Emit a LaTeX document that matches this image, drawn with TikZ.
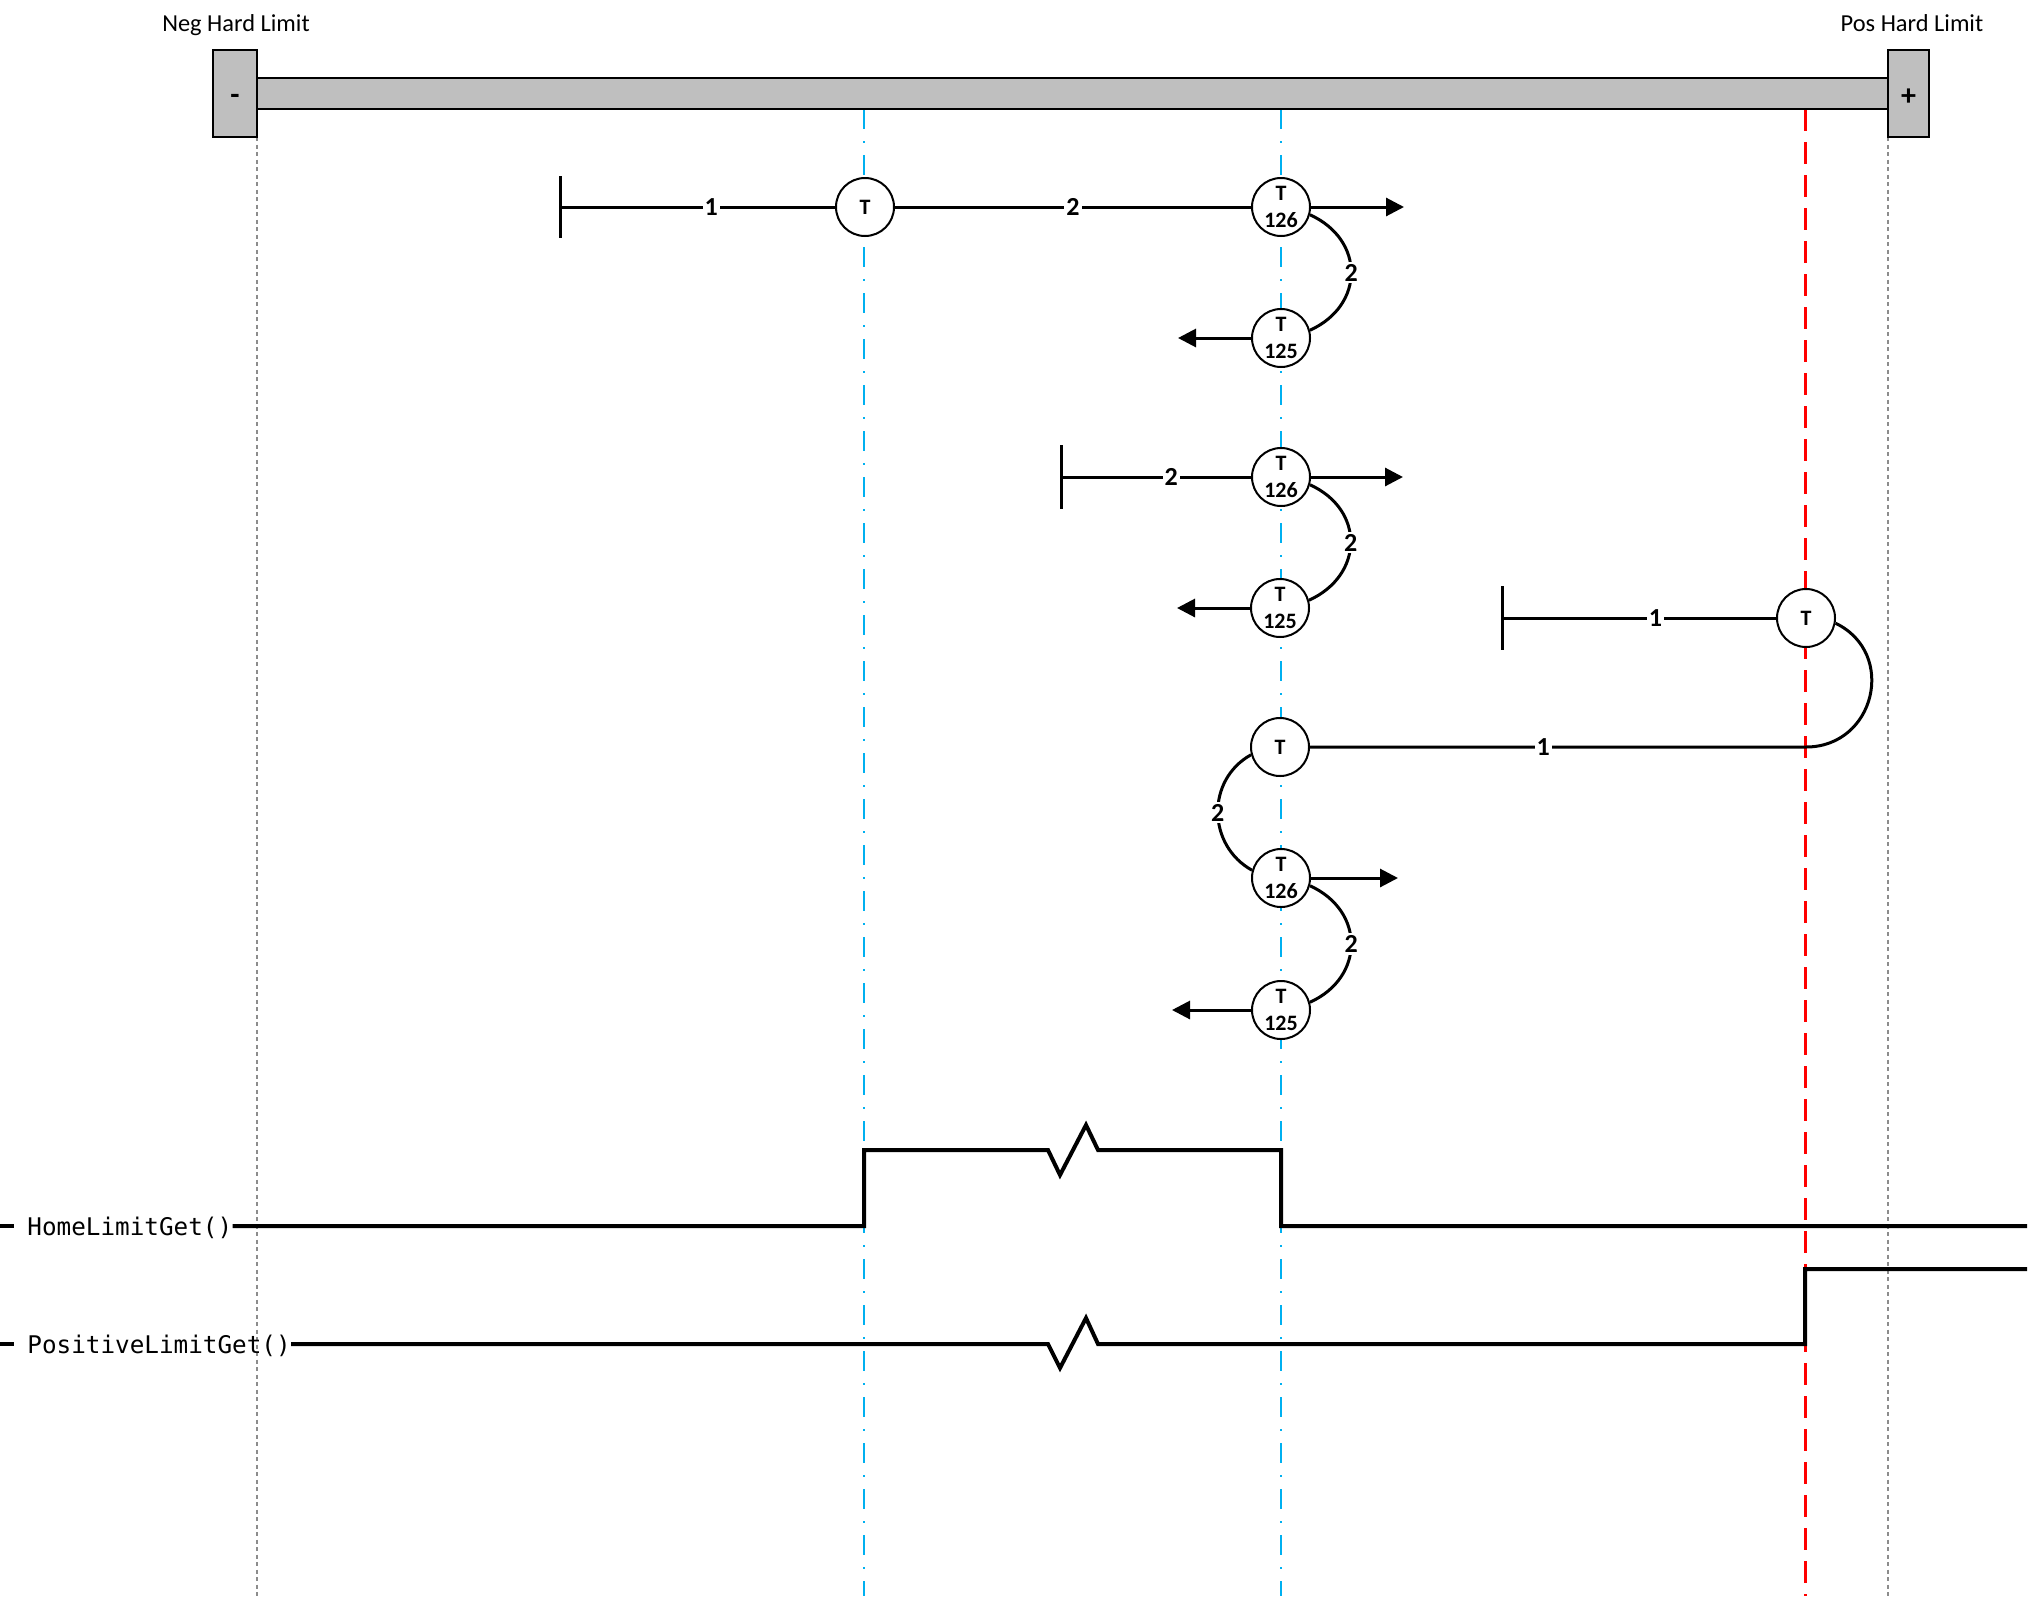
\documentclass[tikz,border=0pt]{standalone}
\usepackage{fontspec}
\setmainfont{Carlito}
\setmonofont{DejaVu Sans Mono}
\usetikzlibrary{arrows.meta}
\definecolor{guideblue}{RGB}{0,176,240}
\definecolor{barfill}{RGB}{191,191,191}
\definecolor{dotgrey}{RGB}{140,140,140}
\begin{document}
\begin{tikzpicture}[x=0.5pt,y=-0.5pt,
  blueguide/.style={guideblue,line width=1.25pt,dash pattern=on 10pt off 6pt on 1pt off 6pt},
  redguide/.style={red,line width=1.5pt,dash pattern=on 11pt off 5.5pt},
  greyguide/.style={dotgrey,line width=1.3pt,dash pattern=on 2pt off 1.75pt},
  limbox/.style={draw,line width=1pt,fill=barfill},
  conn/.style={line width=1.5pt},
  tnode/.style={circle,draw,line width=1pt,fill=white,minimum size=29pt,inner sep=0pt,align=center,font=\bfseries\fontsize{11}{13.5}\selectfont},
  lbl/.style={fill=white,inner sep=1pt,font=\bfseries\fontsize{13}{13}\selectfont},
  arr/.style={conn,-{Triangle[length=9pt,width=9pt]}},
  stopbar/.style={line width=1.5pt},
  sig/.style={line width=2pt,line join=miter},
  siglbl/.style={inner sep=0pt,font=\ttfamily\fontsize{12.15}{14}\selectfont,anchor=base west},
  hdr/.style={font=\fontsize{12.2}{14}\selectfont,anchor=base},
  sign/.style={font=\bfseries\fontsize{15}{15}\selectfont}
]
\useasboundingbox (0,0) rectangle (2029,1596);

% guide lines
\draw[greyguide] (257,137) -- (257,1596);
\draw[greyguide] (1888,137) -- (1888,1596);
\draw[blueguide] (864,109) -- (864,1596);
\draw[blueguide] (1281,109) -- (1281,1596);
\draw[redguide] (1805,109) -- (1805,1596);

% travel bar and hard limits
\draw[limbox] (257,78) rectangle (1888,109);
\node[limbox,minimum width=22pt,minimum height=43.5pt,inner sep=0pt] (negbox) at (235,93.5) {};
\node[limbox,minimum width=20.5pt,minimum height=43.5pt,inner sep=0pt] (posbox) at (1908.5,93.5) {};
\node[sign] at (235,99) {-};
\node[sign] at (1908.5,97) {+};
\node[hdr] (neglbl) at (236,31) {Neg Hard Limit};
\node[hdr] (poslbl) at (1912,31) {Pos Hard Limit};

% row 1
\coordinate (s1) at (560,207);
\node[tnode] (t1) at (865,207) {T};
\node[tnode] (t126a) at (1281,207) {T\\126};
\node[tnode] (t125a) at (1281,338) {T\\125};
\coordinate (a1) at (1404,207);
\coordinate (b1) at (1178,338);
\draw[stopbar] (s1) ++(0,-31) -- ++(0,62);
\draw[conn] (s1) -- node[lbl,pos=0.55]{1} (t1);
\draw[conn] (t1) -- node[lbl]{2} (t126a);
\draw[arr] (t126a) -- (a1);
\draw[conn] (t126a.-15) .. controls +(55,25) and +(55,-25) .. node[lbl]{2} (t125a.15);
\draw[arr] (t125a) -- (b1);

% row 2
\coordinate (s2) at (1061,477);
\node[tnode] (t126b) at (1281,477) {T\\126};
\node[tnode] (t125b) at (1280,608) {T\\125};
\coordinate (a2) at (1403,477);
\coordinate (b2) at (1177,608);
\draw[stopbar] (s2) ++(0,-32) -- ++(0,64);
\draw[conn] (s2) -- node[lbl,pos=0.58]{2} (t126b);
\draw[arr] (t126b) -- (a2);
\draw[conn] (t126b.-15) .. controls +(55,25) and +(55,-25) .. node[lbl]{2} (t125b.15);
\draw[arr] (t125b) -- (b2);

% row 3
\coordinate (s3) at (1502,618);
\node[tnode] (t3) at (1806,618) {T};
\node[tnode] (t4) at (1280,747) {T};
\coordinate (c3) at (1806,747);
\draw[stopbar] (s3) ++(0,-32) -- ++(0,64);
\draw[conn] (s3) -- node[lbl,pos=0.56]{1} (t3);
\draw[conn] (t3.-10) .. controls +(62,30) and +(69,0) .. (c3) -- node[lbl,pos=0.53]{1} (t4);

% row 4
\node[tnode] (t126c) at (1281,878) {T\\126};
\node[tnode] (t125c) at (1281,1010) {T\\125};
\coordinate (a3) at (1398,878);
\coordinate (b3) at (1172,1010);
\draw[conn] (t4.195) .. controls +(-45,25) and +(-45,-25) .. node[lbl]{2} (t126c.165);
\draw[arr] (t126c) -- (a3);
\draw[conn] (t126c.-15) .. controls +(55,25) and +(55,-25) .. node[lbl]{2} (t125c.15);
\draw[arr] (t125c) -- (b3);

% signals
\coordinate (hly) at (0,1226);
\coordinate (ply) at (0,1344);
\node[siglbl] (hl) at (27,1235) {HomeLimitGet()};
\node[siglbl] (pl) at (27,1353) {PositiveLimitGet()};
\draw[sig] (hly) -- (14,1226);
\draw[sig] (ply) -- (14,1344);
\draw[sig] (hl.east |- hly) -- (864,1226) -- (864,1150) -- (1048,1150) -- (1060,1175) -- (1086,1125) -- (1098,1150) -- (1281,1150) -- (1281,1226) -- (2027,1226);
\draw[sig] (pl.east |- ply) -- (1048,1344) -- (1060,1368) -- (1086,1318) -- (1098,1344) -- (1805,1344) -- (1805,1269) -- (2027,1269);
\end{tikzpicture}
\end{document}
